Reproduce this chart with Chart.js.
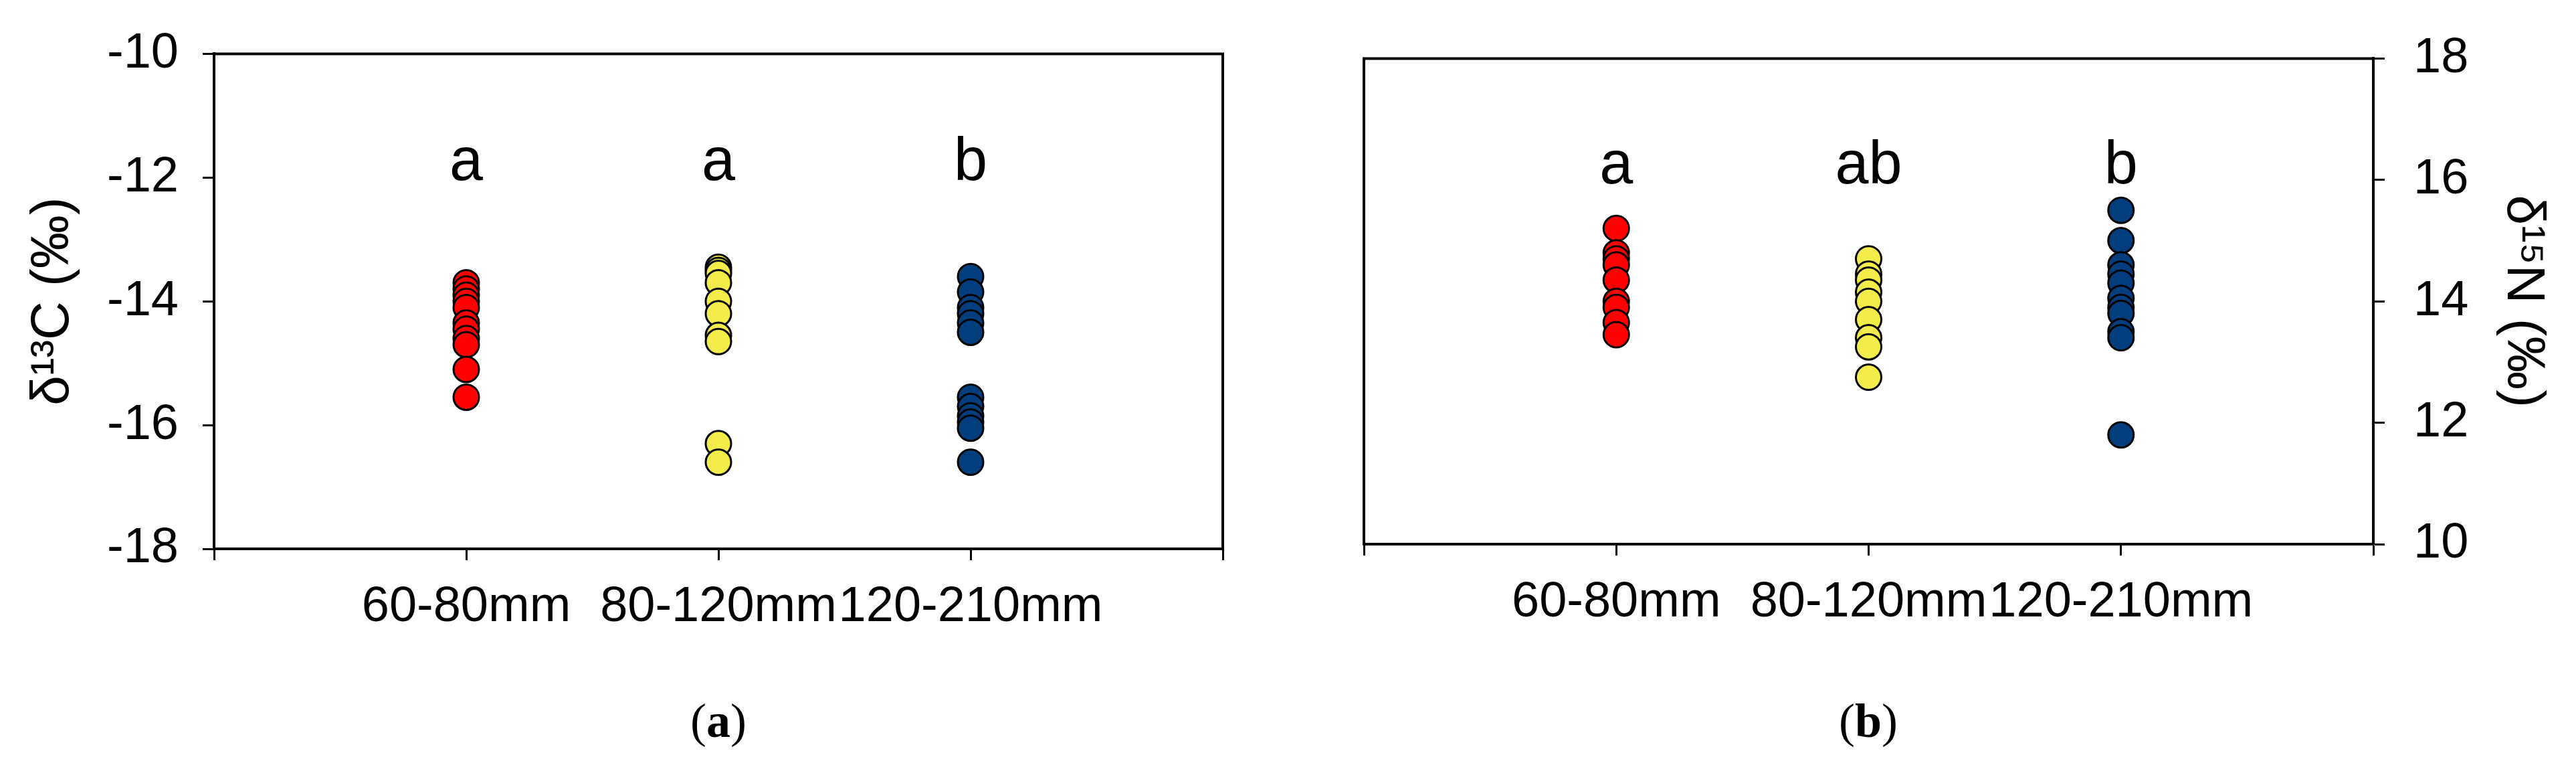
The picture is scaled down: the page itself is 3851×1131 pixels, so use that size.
<!DOCTYPE html>
<html>
<head>
<meta charset="utf-8">
<title>δ13C / δ15N by size class</title>
<script src="https://cdn.jsdelivr.net/npm/chart.js@4.4.1/dist/chart.umd.min.js"></script>
<style>
  html, body { margin: 0; padding: 0; background: #fff; }
  body { width: 3851px; height: 1131px; position: relative; overflow: hidden; }
  .panel { position: absolute; top: 0; height: 1000px; }
  #panel-c { left: 0; width: 1930px; }
  #panel-n { left: 1930px; width: 1921px; }
  .caption {
    position: absolute; top: 1032px; width: 200px; margin-left: -100px;
    text-align: center; font-family: "Liberation Serif", "Times New Roman", serif;
    font-size: 72px; line-height: 90px; color: #000;
  }
</style>
</head>
<body>
<div class="panel" id="panel-c"><canvas id="chart-c"></canvas></div>
<div class="panel" id="panel-n"><canvas id="chart-n"></canvas></div>
<div class="caption" style="left:1074px">(<b>a</b>)</div>
<div class="caption" style="left:2793px">(<b>b</b>)</div>

<script>
// ---- data -------------------------------------------------------------
const sizeClasses = ['60-80mm', '80-120mm', '120-210mm'];
const classColors = ['#ff0000', '#f3ec4b', '#023e7d'];

// δ13C (‰), panel a
const c13Small = [-13.7, -13.8, -13.9, -14.0, -14.1, -14.35, -14.45, -14.6, -14.7, -15.1, -15.55];
const c13Mid   = [-13.45, -13.5, -13.55, -13.7, -14.0, -14.2, -14.55, -14.65, -16.3, -16.6];
const c13Large = [-13.6, -13.85, -14.1, -14.2, -14.35, -14.5, -15.55, -15.7, -15.85, -15.95, -16.05, -16.6];

// δ15N (‰), panel b
const n15Small = [15.2, 14.8, 14.7, 14.6, 14.35, 14.0, 13.9, 13.65, 13.45];
const n15Mid   = [14.7, 14.45, 14.35, 14.15, 14.0, 13.7, 13.4, 13.25, 12.75];
const n15Large = [15.5, 15.0, 14.6, 14.45, 14.3, 14.05, 13.9, 13.8, 13.5, 13.4, 11.8];

// significance letters and where their baseline sits (data units)
const lettersC = ['a', 'a', 'b'];
const lettersN = ['a', 'ab', 'b'];
const letterYC = -12.04;
const letterYN = 15.94;

const FONT = '"Liberation Sans", Arial, Helvetica, sans-serif';

// ---- helpers ----------------------------------------------------------
function makeDatasets(groups) {
  return groups.map((vals, i) => ({
    label: sizeClasses[i],
    data: vals.map(v => ({x: i + 1, y: v})),
    backgroundColor: classColors[i],
    borderColor: '#000',
    borderWidth: 3,
    pointRadius: 19,
    pointHoverRadius: 19,
  }));
}

// box lines that are not axes (top + right for a, top + left for b)
const framePlugin = {
  id: 'frame',
  afterDatasetsDraw(chart, args, opts) {
    const {ctx, chartArea: a} = chart;
    ctx.save();
    ctx.strokeStyle = '#000';
    ctx.lineWidth = 4;
    ctx.lineCap = 'square';
    ctx.beginPath();
    (opts.sides || []).forEach(side => {
      if (side === 'top') { ctx.moveTo(a.left, a.top); ctx.lineTo(a.right, a.top); }
      if (side === 'right') { ctx.moveTo(a.right, a.top); ctx.lineTo(a.right, a.bottom); }
      if (side === 'left') { ctx.moveTo(a.left, a.top); ctx.lineTo(a.left, a.bottom); }
    });
    ctx.stroke();
    ctx.restore();
  }
};

const lettersPlugin = {
  id: 'letters',
  afterDatasetsDraw(chart, args, opts) {
    if (!opts.letters) return;
    const {ctx, scales} = chart;
    const yAxis = scales[opts.axis];
    ctx.save();
    ctx.fillStyle = '#000';
    ctx.font = `90px ${FONT}`;
    ctx.textAlign = 'center';
    ctx.textBaseline = 'alphabetic';
    opts.letters.forEach((t, i) => {
      ctx.fillText(t, scales.x.getPixelForValue(i + 1), yAxis.getPixelForValue(opts.y));
    });
    ctx.restore();
  }
};

function xScale(height) {
  return {
    type: 'linear', min: 0, max: 4,
    ticks: {
      stepSize: 1, autoSkip: false, maxRotation: 0, padding: 26,
      color: '#000', font: {size: 74, family: FONT},
      callback: v => sizeClasses[v - 1] || '',
    },
    grid: {drawOnChartArea: false, drawTicks: true, tickLength: 17, tickWidth: 3, tickColor: '#000'},
    border: {display: true, color: '#000', width: 4},
    afterFit: s => { s.height = height; },
  };
}

function yScale(pos, min, max, width, title, pad) {
  return {
    type: 'linear', position: pos, min, max,
    ticks: {stepSize: 2, padding: pad, color: '#000', font: {size: 74, family: FONT}},
    grid: {drawOnChartArea: false, drawTicks: true, tickLength: 17, tickWidth: 3, tickColor: '#000'},
    border: {display: true, color: '#000', width: 4},
    title: {display: true, text: title, color: '#000', font: {size: 80, family: FONT}, padding: {top: 32, bottom: 0}},
    afterFit: s => { s.width = width; },
  };
}

Chart.defaults.animation = false;
Chart.defaults.events = [];

// ---- panel a: δ13C ----------------------------------------------------
new Chart(document.getElementById('chart-c'), {
  type: 'scatter',
  data: {datasets: makeDatasets([c13Small, c13Mid, c13Large])},
  options: {
    responsive: true, maintainAspectRatio: false,
    layout: {padding: {top: 78, right: 102, left: 0, bottom: 0}},
    plugins: {
      legend: {display: false}, tooltip: {enabled: false},
      frame: {sides: ['top', 'right']},
      letters: {letters: lettersC, y: letterYC, axis: 'y'},
    },
    scales: {
      x: xScale(180),
      y: yScale('left', -18, -10, 320, 'δ¹³C (‰)', 36),
    },
  },
  plugins: [framePlugin, lettersPlugin],
});

// ---- panel b: δ15N ----------------------------------------------------
new Chart(document.getElementById('chart-n'), {
  type: 'scatter',
  data: {datasets: makeDatasets([n15Small, n15Mid, n15Large])},
  options: {
    responsive: true, maintainAspectRatio: false,
    layout: {padding: {top: 78, right: 0, left: 109, bottom: 0}},
    plugins: {
      legend: {display: false}, tooltip: {enabled: false},
      frame: {sides: ['top', 'left']},
      letters: {letters: lettersN, y: letterYN, axis: 'y'},
    },
    scales: {
      x: xScale(187),
      y: yScale('right', 10, 18, 303, 'δ¹⁵N (‰)', 43),
    },
  },
  plugins: [framePlugin, lettersPlugin],
});
</script>
</body>
</html>
